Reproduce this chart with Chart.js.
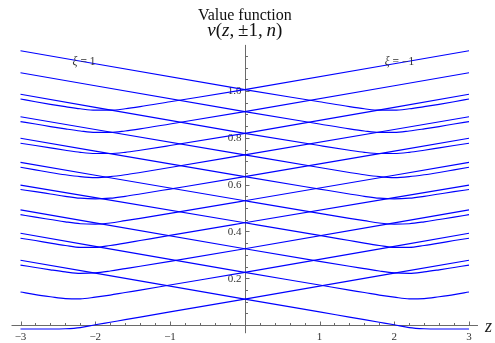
<!DOCTYPE html>
<html>
<head>
<meta charset="utf-8">
<title>Value function</title>
<script src="https://cdn.jsdelivr.net/npm/chart.js@4.4.1/dist/chart.umd.min.js"></script>
<style>
  html, body { margin: 0; padding: 0; background: #fff; }
  #valueChart { display: block; }
</style>
</head>
<body>
<canvas id="valueChart" width="495" height="343"></canvas>
<script>
// z positions sampled along every curve
const zGrid = [-3, 0, 1, 1.4, 1.6, 1.8, 2.0, 2.2, 2.4, 2.6, 2.8, 3];

// v(z, +1, n) for n = 0..9, one value per zGrid position
const vN0 = [1.172, 1.006, 0.954, 0.933, 0.924, 0.918, 0.918, 0.924, 0.933, 0.943, 0.954, 0.966];
const vN1 = [1.078, 0.912, 0.859, 0.838, 0.829, 0.823, 0.823, 0.829, 0.838, 0.848, 0.859, 0.869];
const vN2 = [0.986, 0.819, 0.767, 0.747, 0.738, 0.733, 0.733, 0.738, 0.747, 0.757, 0.767, 0.777];
const vN3 = [0.890, 0.727, 0.673, 0.652, 0.642, 0.634, 0.630, 0.634, 0.642, 0.652, 0.663, 0.674];
const vN4 = [0.798, 0.634, 0.581, 0.560, 0.550, 0.542, 0.539, 0.542, 0.550, 0.560, 0.570, 0.579];
const vN5 = [0.695, 0.531, 0.477, 0.456, 0.446, 0.436, 0.431, 0.433, 0.441, 0.451, 0.461, 0.472];
const vN6 = [0.598, 0.437, 0.383, 0.361, 0.350, 0.340, 0.332, 0.332, 0.340, 0.350, 0.361, 0.371];
const vN7 = [0.492, 0.326, 0.272, 0.251, 0.241, 0.231, 0.223, 0.221, 0.227, 0.236, 0.246, 0.256];
const vN8 = [0.392, 0.225, 0.171, 0.149, 0.139, 0.128, 0.119, 0.112, 0.113, 0.121, 0.130, 0.141];
const vN9 = [0.277, 0.111, 0.056, 0.034, 0.023, 0.012, 0.001, -0.011, -0.016, -0.017, -0.017, -0.017];

const xTickValues = [-3, -2, -1, 1, 2, 3];
const yTickValues = [0.2, 0.4, 0.6, 0.8, 1.0];

// v(z, -1, n) is v(-z, +1, n): same values, z flipped
const curves = [vN0, vN1, vN2, vN3, vN4, vN5, vN6, vN7, vN8, vN9];
const lineStyle = {
    borderColor: '#0000ff',
    borderWidth: 1.15,
    pointRadius: 0,
    cubicInterpolationMode: 'monotone',
    clip: false
};
const datasets = [];
curves.forEach(function (vals, n) {
    datasets.push(Object.assign({
        label: 'ξ = 1, n = ' + n,
        data: zGrid.map(function (z, i) { return { x: z, y: vals[i] }; })
    }, lineStyle));
    datasets.push(Object.assign({
        label: 'ξ = −1, n = ' + n,
        data: zGrid.map(function (z, i) { return { x: -z, y: vals[i] }; }).reverse()
    }, lineStyle));
});

const SERIF = '"Liberation Serif", "DejaVu Serif", serif';

// axes crossing at the origin, Mathematica style
const crossAxes = {
    id: 'crossAxes',
    beforeDatasetsDraw(chart) {
        const ctx = chart.ctx;
        const xs = chart.scales.x, ys = chart.scales.y;
        const x0 = Math.round(xs.getPixelForValue(0)) + 0.5;
        const y0 = Math.round(ys.getPixelForValue(0)) + 0.5;
        ctx.save();
        ctx.strokeStyle = '#6a6a6a';
        ctx.lineWidth = 1;
        ctx.beginPath();
        ctx.moveTo(xs.getPixelForValue(-3.12), y0);
        ctx.lineTo(xs.getPixelForValue(3.12), y0);
        ctx.moveTo(x0, ys.getPixelForValue(-0.035));
        ctx.lineTo(x0, ys.getPixelForValue(1.197));
        // z ticks, pointing up
        for (let k = -15; k <= 15; k++) {
            if (k === 0) continue;
            const px = Math.round(xs.getPixelForValue(k * 0.2)) + 0.5;
            const len = (k % 5 === 0) ? 4 : 2.5;
            ctx.moveTo(px, y0);
            ctx.lineTo(px, y0 - len);
        }
        // v ticks, pointing right
        for (let k = 1; k <= 23; k++) {
            const py = Math.round(ys.getPixelForValue(k * 0.05)) + 0.5;
            const len = (k % 4 === 0) ? 4 : 2.5;
            ctx.moveTo(x0, py);
            ctx.lineTo(x0 + len, py);
        }
        ctx.stroke();

        ctx.fillStyle = '#333';
        ctx.font = '11px ' + SERIF;
        ctx.textAlign = 'center';
        ctx.textBaseline = 'middle';
        xTickValues.forEach(function (v) {
            const txt = v < 0 ? '\u2212' + Math.abs(v) : String(v);
            ctx.fillText(txt, xs.getPixelForValue(v), y0 + 12);
        });
        ctx.textAlign = 'right';
        yTickValues.forEach(function (v) {
            ctx.fillText(v.toFixed(1), x0 - 4, ys.getPixelForValue(v) + 0.5);
        });

        // axis name
        ctx.textAlign = 'left';
        ctx.font = 'italic 18px ' + SERIF;
        ctx.fillStyle = '#222';
        ctx.fillText('z', 485, y0 + 2);

        // title
        const cx = (chart.chartArea.left + chart.chartArea.right) / 2;
        ctx.fillStyle = '#111';
        ctx.textAlign = 'center';
        ctx.textBaseline = 'alphabetic';
        ctx.font = '16px ' + SERIF;
        ctx.fillText('Value function', cx, 19.5);
        drawRuns(ctx, [
            ['v', 'italic'], ['(', ''], ['z', 'italic'], [',\u2009\u00b11,\u2009', ''],
            ['n', 'italic'], [')', '']
        ], cx, 35.5, 19);
        ctx.restore();
    },
    afterDatasetsDraw(chart) {
        const ctx = chart.ctx;
        const xs = chart.scales.x, ys = chart.scales.y;
        ctx.save();
        ctx.fillStyle = '#333';
        ctx.textBaseline = 'middle';
        drawRuns(ctx, [['\u03be', 'italic'], [' = 1', '']],
            xs.getPixelForValue(-2.15), ys.getPixelForValue(1.124), 11.5);
        drawRuns(ctx, [['\u03be', 'italic'], [' = \u22121', '']],
            xs.getPixelForValue(2.07), ys.getPixelForValue(1.124), 11.5);
        ctx.restore();
    }
};

// text made of upright and italic pieces, centred on cx
function drawRuns(ctx, runs, cx, y, size) {
    let total = 0;
    const widths = runs.map(function (r) {
        ctx.font = (r[1] ? r[1] + ' ' : '') + size + 'px ' + SERIF;
        const w = ctx.measureText(r[0]).width;
        total += w;
        return w;
    });
    let x = cx - total / 2;
    ctx.textAlign = 'left';
    runs.forEach(function (r, i) {
        ctx.font = (r[1] ? r[1] + ' ' : '') + size + 'px ' + SERIF;
        ctx.fillText(r[0], x, y);
        x += widths[i];
    });
}

const ctx = document.getElementById('valueChart').getContext('2d');
new Chart(ctx, {
    type: 'line',
    data: { datasets: datasets },
    options: {
        responsive: false,
        animation: false,
        devicePixelRatio: 1,
        layout: { padding: { left: 20.5, right: 26, top: 44.2, bottom: 8.6 } },
        scales: {
            x: { type: 'linear', min: -3, max: 3, display: false },
            y: { type: 'linear', min: -0.04, max: 1.2, display: false }
        },
        plugins: {
            legend: { display: false },
            tooltip: { enabled: false },
            title: { display: false }
        }
    },
    plugins: [crossAxes]
});
</script>
</body>
</html>
